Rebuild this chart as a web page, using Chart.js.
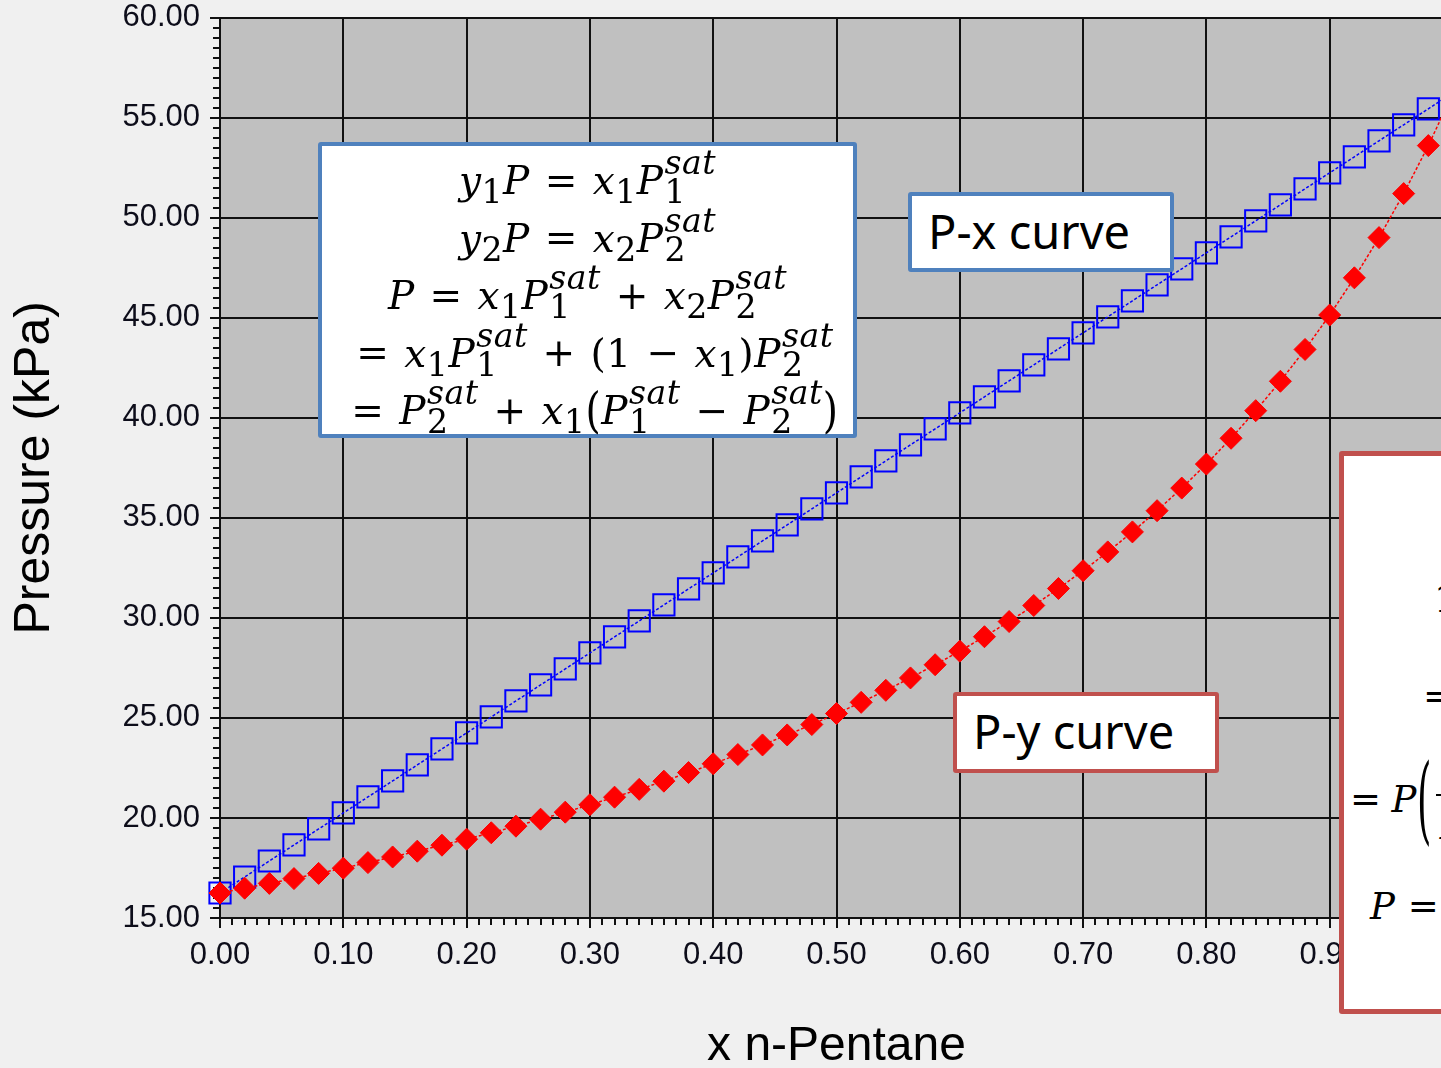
<!DOCTYPE html>
<html>
<head>
<meta charset="utf-8">
<title>P-x-y diagram, n-Pentane</title>
<script src="https://cdn.jsdelivr.net/npm/chart.js@4.4.1/dist/chart.umd.min.js"></script>
<style>
  html, body { margin: 0; padding: 0; background: #f0f0f0; overflow: hidden; }
  #wrap { position: relative; width: 1500px; height: 1090px; }
  #chart { position: absolute; left: 0; top: 0; }
  .box { position: absolute; background: #fff; box-sizing: border-box; border-radius: 3px; overflow: hidden; }
  .blue { border: 4px solid #4f81bd; }
  .red { border: 4px solid #c0504d; }
  .label { font-family: "Noto Sans", "Open Sans", sans-serif; font-size: 47px; line-height: 58px; color: #000; padding: 6px 0 0 16px; white-space: nowrap; }
  .eq { font-family: "DejaVu Serif", "Liberation Serif", serif; font-size: 39px; color: #000; white-space: nowrap; letter-spacing: 0.5px; }
  .eq .ln { height: 57.5px; line-height: 57.5px; text-align: center; }
  .eq i { font-style: italic; }
  .eq sub { font-size: 0.85em; vertical-align: -0.29em; line-height: 0; }
  .ss { display: inline-block; font-size: 0.85em; line-height: 0.88; vertical-align: -0.29em; text-align: left; margin-left: 1px; }
  .ss > * { display: block; }
  .op { margin: 0 0.38em; }
  .gap { margin-right: 10px; }
  .bp { display: inline-block; transform: scaleY(1.25); }
  .big { display: inline-block; transform: scale(1, 2.6); }
  .frac { display: inline-block; vertical-align: middle; line-height: 1.1; text-align: center; margin: 0 4px; }
  .frac > span { display: block; padding: 0 4px; }
  .frac > span + span { border-top: 2px solid #000; }
  .abs { position: absolute; }
</style>
</head>
<body>
<div id="wrap">
  <canvas id="chart" width="1500" height="1090"></canvas>

  <div class="box blue eq" style="left:318px; top:142px; width:539px; height:296px; padding-top:2px; overflow:visible;">
    <div class="ln"><i>y</i><sub>1</sub><i>P</i><span class="op">=</span><i>x</i><sub>1</sub><i>P</i><span class="ss"><i>sat</i><span>1</span></span></div>
    <div class="ln"><i>y</i><sub>2</sub><i>P</i><span class="op">=</span><i>x</i><sub>2</sub><i>P</i><span class="ss"><i>sat</i><span>2</span></span></div>
    <div class="ln"><i>P</i><span class="op">=</span><i>x</i><sub>1</sub><i>P</i><span class="ss"><i>sat</i><span>1</span></span><span class="op">+</span><i>x</i><sub>2</sub><i>P</i><span class="ss"><i>sat</i><span>2</span></span></div>
    <div class="ln"><span class="op">=</span><i>x</i><sub>1</sub><i>P</i><span class="ss"><i>sat</i><span>1</span></span><span class="op">+</span>(1<span class="op">−</span><i>x</i><sub>1</sub>)<i>P</i><span class="ss"><i>sat</i><span>2</span></span></div>
    <div class="ln"><span class="op">=</span><i>P</i><span class="ss"><i>sat</i><span>2</span></span><span class="op">+</span><i>x</i><sub>1</sub><span class="bp">(</span><i>P</i><span class="ss"><i>sat</i><span>1</span></span><span class="op">−</span><i>P</i><span class="ss"><i>sat</i><span>2</span></span><span class="bp">)</span></div>
  </div>

  <div class="box blue label" style="left:908px; top:192px; width:266px; height:80px;">P-x curve</div>
  <div class="box red label" style="left:953px; top:692px; width:266px; height:81px;">P-y curve</div>

  <div class="box red eq" style="left:1339px; top:451px; width:460px; height:563px; border-width:5px; font-size:37px;">
    <div class="abs ln" style="left:90px; top:115px;">1<span class="op">=</span><i>x</i><sub>1</sub><span class="op">+</span><i>x</i><sub>2</sub></div>
    <div class="abs ln" style="left:79px; top:210px;"><span class="gap">=</span><i>y</i><sub>1</sub><i>P</i>/<i>P</i><span class="ss"><i>sat</i><span>1</span></span><span class="op">+</span><i>y</i><sub>2</sub><i>P</i>/<i>P</i><span class="ss"><i>sat</i><span>2</span></span></div>
    <div class="abs ln" style="left:6px; top:297px;"><span class="gap">=</span><i>P</i><span class="big">(</span><span class="frac"><span><i>y</i><sub>1</sub></span><span><i>P</i><span class="ss"><i>sat</i><span>1</span></span></span></span><span class="op">+</span><span class="frac"><span><i>y</i><sub>2</sub></span><span><i>P</i><span class="ss"><i>sat</i><span>2</span></span></span></span><span class="big">)</span></div>
    <div class="abs ln" style="left:26px; top:420px;"><i>P</i> = 1/(<i>y</i><sub>1</sub>/<i>P</i><span class="ss"><i>sat</i><span>1</span></span><span class="op">+</span><i>y</i><sub>2</sub>/<i>P</i><span class="ss"><i>sat</i><span>2</span></span>)</div>
  </div>
</div>

<script>
// mole fraction of n-pentane (0 .. 1, every 0.02)
const xValues = [
  0.00, 0.02, 0.04, 0.06, 0.08, 0.10, 0.12, 0.14, 0.16, 0.18,
  0.20, 0.22, 0.24, 0.26, 0.28, 0.30, 0.32, 0.34, 0.36, 0.38,
  0.40, 0.42, 0.44, 0.46, 0.48, 0.50, 0.52, 0.54, 0.56, 0.58,
  0.60, 0.62, 0.64, 0.66, 0.68, 0.70, 0.72, 0.74, 0.76, 0.78,
  0.80, 0.82, 0.84, 0.86, 0.88, 0.90, 0.92, 0.94, 0.96, 0.98, 1.00
];

// P-x curve (bubble line), kPa
const pxCurve = [
  16.25, 17.05, 17.85, 18.65, 19.45, 20.25, 21.05, 21.85, 22.65, 23.45,
  24.25, 25.05, 25.85, 26.65, 27.45, 28.25, 29.05, 29.85, 30.65, 31.45,
  32.25, 33.05, 33.85, 34.65, 35.45, 36.25, 37.05, 37.85, 38.65, 39.45,
  40.25, 41.05, 41.85, 42.65, 43.45, 44.25, 45.05, 45.85, 46.65, 47.45,
  48.25, 49.05, 49.85, 50.65, 51.45, 52.25, 53.05, 53.85, 54.65, 55.45, 56.25
];

// P-y curve (dew line), kPa
const pyCurve = [
  16.25, 16.49, 16.73, 16.97, 17.23, 17.49, 17.77, 18.05, 18.34, 18.64,
  18.94, 19.26, 19.59, 19.94, 20.29, 20.66, 21.04, 21.43, 21.84, 22.27,
  22.71, 23.17, 23.65, 24.15, 24.67, 25.22, 25.78, 26.38, 27.00, 27.66,
  28.34, 29.06, 29.82, 30.62, 31.47, 32.36, 33.30, 34.30, 35.36, 36.49,
  37.69, 38.98, 40.36, 41.83, 43.42, 45.14, 47.00, 49.01, 51.21, 53.61, 56.25
];

const axisColor = '#111111';
const labelColor = '#0d0d1a';
const sans = '"Liberation Sans", Arial, sans-serif';

// grey plot area
const plotBg = {
  id: 'plotBg',
  beforeDraw(chart) {
    const { ctx, chartArea: a } = chart;
    ctx.save();
    ctx.fillStyle = '#c0c0c0';
    ctx.fillRect(a.left, a.top, a.right - a.left, a.bottom - a.top);
    ctx.restore();
  }
};

// small ticks between the labelled ones
const minorTicks = {
  id: 'minorTicks',
  beforeDatasetsDraw(chart) {
    const { ctx, chartArea: a, scales: { x, y } } = chart;
    ctx.save();
    ctx.strokeStyle = axisColor;
    ctx.lineWidth = 2;
    ctx.beginPath();
    for (let i = 31; i < 120; i++) {
      if (i % 10 === 0) continue;
      const py = Math.round(y.getPixelForValue(i / 2));
      ctx.moveTo(a.left - 7, py);
      ctx.lineTo(a.left, py);
    }
    for (let i = 1; i < 100; i++) {
      if (i % 10 === 0) continue;
      const px = Math.round(x.getPixelForValue(i / 100));
      ctx.moveTo(px, a.bottom);
      ctx.lineTo(px, a.bottom + 7);
    }
    ctx.stroke();
    ctx.restore();
  }
};

function toPoints(ys) {
  return xValues.map((x, i) => ({ x, y: ys[i] }));
}

new Chart(document.getElementById('chart'), {
  type: 'line',
  data: {
    datasets: [
      {
        label: 'P-y curve',
        data: toPoints(pyCurve),
        borderColor: '#ff0000',
        borderWidth: 1.5,
        borderDash: [3, 2],
        pointStyle: 'rectRot',
        pointRadius: 11,
        pointBackgroundColor: '#ff0000',
        pointBorderColor: '#ff0000',
        pointBorderWidth: 1,
        clip: false,
        order: 0
      },
      {
        label: 'P-x curve',
        data: toPoints(pxCurve),
        borderColor: '#0000ff',
        borderWidth: 1.5,
        borderDash: [3, 2],
        pointStyle: 'rect',
        pointRadius: 15,
        pointBackgroundColor: 'rgba(0,0,0,0)',
        pointBorderColor: '#0000ff',
        pointBorderWidth: 2,
        clip: false,
        order: 1
      }
    ]
  },
  options: {
    responsive: false,
    animation: false,
    layout: { padding: { left: 0, top: 0, right: 47, bottom: 0 } },
    plugins: {
      legend: { display: false },
      tooltip: { enabled: false }
    },
    scales: {
      x: {
        type: 'linear',
        min: 0,
        max: 1,
        afterFit: s => { s.height = 172; },
        ticks: {
          stepSize: 0.1,
          autoSkip: false,
          maxRotation: 0,
          padding: 9,
          color: labelColor,
          font: { family: sans, size: 31 },
          callback: v => Number(v).toFixed(2)
        },
        grid: { color: axisColor, lineWidth: 2, tickLength: 10, tickColor: axisColor },
        border: { color: axisColor, width: 2 },
        title: {
          display: true,
          text: 'x n-Pentane',
          color: '#000',
          font: { family: sans, size: 48 },
          padding: { top: 0, bottom: 14 }
        }
      },
      y: {
        min: 15,
        max: 60,
        afterFit: s => { s.width = 220; },
        ticks: {
          stepSize: 5,
          autoSkip: false,
          padding: 10,
          color: labelColor,
          font: { family: sans, size: 31, lineHeight: 0.5 },
          callback: v => Number(v).toFixed(2)
        },
        grid: { color: axisColor, lineWidth: 2, tickLength: 10, tickColor: axisColor },
        border: { color: axisColor, width: 2 },
        title: {
          display: true,
          text: 'Pressure (kPa)',
          color: '#000',
          font: { family: sans, size: 50 },
          padding: { top: 5, bottom: 0 }
        }
      }
    }
  },
  plugins: [plotBg, minorTicks]
});
</script>
</body>
</html>
